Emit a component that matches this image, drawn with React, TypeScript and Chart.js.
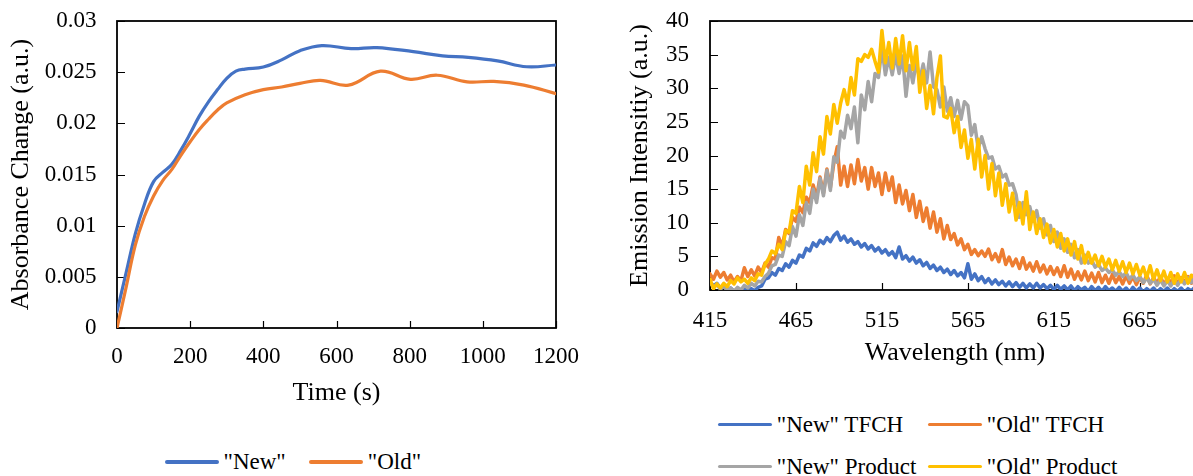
import React, { useEffect, useRef } from 'react';
import { Chart, registerables } from 'chart.js';

Chart.register(...registerables);

const FONT = "'Liberation Serif', 'Times New Roman', serif";
Chart.defaults.font.family = FONT;
const BLUE = '#4472C4';
const ORANGE = '#ED7D31';
const GRAY = '#A5A5A5';
const YELLOW = '#FFC000';

// ---- Left chart: absorbance change vs time ----
const timeNew = [0, 25, 50, 75, 100, 125, 150, 175, 200, 225, 250, 275, 300, 325, 350, 400, 450, 500, 560, 640, 710, 810, 890, 960, 1040, 1120, 1200];
const absNew = [0.0016, 0.0054, 0.0092, 0.0121, 0.0143, 0.0152, 0.016, 0.0174, 0.019, 0.0207, 0.0221, 0.0233, 0.0244, 0.0251, 0.0253, 0.0255, 0.0262, 0.0271, 0.0276, 0.0273, 0.0274, 0.027, 0.0266, 0.02645, 0.0261, 0.02553, 0.0257];
const timeOld = [0, 25, 50, 75, 100, 125, 150, 175, 200, 225, 250, 275, 300, 350, 400, 450, 500, 556, 633, 720, 802, 875, 957, 1030, 1112, 1200];
const absOld = [0, 0.004, 0.0081, 0.0109, 0.0129, 0.0144, 0.0155, 0.0169, 0.0182, 0.0194, 0.0204, 0.0213, 0.022, 0.0228, 0.0233, 0.02355, 0.0239, 0.0242, 0.02374, 0.0251, 0.0243, 0.0247, 0.02405, 0.0241, 0.02374, 0.0229];
const timeTicks = [0, 200, 400, 600, 800, 1000, 1200];
const absTicks = [0, 0.005, 0.01, 0.015, 0.02, 0.025, 0.03];

// ---- Right chart: emission spectra ----
const wavelengths = [
  415, 417, 419, 421, 423, 425, 427, 429, 431, 433,
  435, 437, 439, 441, 443, 445, 447, 449, 451, 453,
  455, 457, 459, 461, 463, 465, 467, 469, 471, 473,
  475, 477, 479, 481, 483, 485, 487, 489, 491, 493,
  495, 497, 499, 501, 503, 505, 507, 509, 511, 513,
  515, 517, 519, 521, 523, 525, 527, 529, 531, 533,
  535, 537, 539, 541, 543, 545, 547, 549, 551, 553,
  555, 557, 559, 561, 563, 565, 567, 569, 571, 573,
  575, 577, 579, 581, 583, 585, 587, 589, 591, 593,
  595, 597, 599, 601, 603, 605, 607, 609, 611, 613,
  615, 617, 619, 621, 623, 625, 627, 629, 631, 633,
  635, 637, 639, 641, 643, 645, 647, 649, 651, 653,
  655, 657, 659, 661, 663, 665, 667, 669, 671, 673,
  675, 677, 679, 681, 683, 685, 687, 689, 691, 693,
  695, 697, 699,
];
const newTFCH = [
  1.2, 0.6, 1.0, 0.3, 0.6, 0.0, 0.3, -0.2, 0.2, -0.3,
  0.1, -0.2, 0.2, -0.1, 0.4, 0.6, 1.6, 1.8, 2.6, 2.2,
  3.2, 2.9, 3.9, 3.4, 4.4, 4.0, 5.2, 4.9, 6.2, 5.8,
  7.0, 6.5, 7.4, 6.9, 7.8, 7.2, 8.1, 8.6, 7.4, 8.0,
  7.1, 7.6, 6.8, 7.2, 6.4, 6.9, 6.1, 6.6, 5.8, 6.3,
  5.5, 6.0, 5.2, 5.7, 4.8, 6.4, 4.6, 5.1, 4.3, 4.9,
  4.0, 4.5, 3.6, 4.1, 3.2, 3.7, 2.9, 3.4, 2.6, 3.1,
  2.3, 2.9, 2.1, 2.6, 1.8, 3.9, 1.6, 2.4, 1.4, 2.0,
  1.1, 1.7, 0.9, 1.5, 0.8, 1.3, 0.6, 1.2, 0.5, 1.1,
  0.4, 1.0, 0.3, 0.9, 0.3, 1.0, 0.3, 0.8, 0.2, 0.7,
  0.1, 0.7, 0.1, 0.6, 0.0, 0.6, -0.1, 0.5, 0.0, 0.4,
  -0.2, 0.5, -0.1, 0.4, -0.2, 0.5, -0.1, 0.3, -0.2, 0.4,
  -0.2, 0.3, -0.3, 0.4, -0.2, 0.3, -0.3, 0.2, -0.2, 0.3,
  -0.3, 0.2, -0.2, 0.3, -0.3, 0.2, -0.2, 0.3, -0.3, 0.2,
  -0.1, 0.4, 0.1,
];
const oldTFCH = [
  2.4, 1.6, 2.8, 1.9, 2.6, 1.5, 2.2, 1.2, 2.0, 1.4,
  3.3, 2.0, 3.0, 2.1, 3.4, 2.6, 4.0, 3.4, 4.8, 4.6,
  7.8, 6.5, 9.0, 8.4, 10.8, 10.2, 12.3, 11.5, 13.8, 13.0,
  15.6, 13.8, 16.8, 14.4, 18.0, 15.2, 18.8, 21.3, 15.6, 18.4,
  15.4, 18.6, 15.8, 19.4, 16.2, 18.2, 15.0, 18.2, 15.4, 17.4,
  14.2, 17.4, 14.8, 16.8, 13.0, 15.6, 12.8, 14.8, 11.8, 14.2,
  10.8, 13.2, 10.2, 12.2, 9.2, 11.6, 8.6, 10.6, 7.6, 9.6,
  7.5, 8.4, 6.7, 7.6, 6.0, 6.8, 5.3, 6.0, 5.1, 5.8,
  5.0, 6.1, 4.5, 5.4, 4.2, 6.0, 3.8, 4.9, 3.6, 4.6,
  3.2, 4.8, 3.1, 4.0, 2.8, 4.2, 2.7, 3.7, 2.4, 3.5,
  2.3, 3.3, 2.0, 3.6, 1.9, 3.1, 1.6, 2.7, 1.5, 2.8,
  1.4, 2.5, 1.2, 2.6, 1.1, 2.2, 1.0, 2.3, 1.1, 2.0,
  0.9, 2.1, 1.0, 2.0, 0.8, 1.9, 1.0, 2.2, 0.9, 1.8,
  1.0, 2.0, 0.8, 1.7, 1.1, 2.1, 0.9, 1.8, 1.2, 2.0,
  1.0, 2.4, 2.6,
];
const newProduct = [
  1.2, 0.4, 0.9, 0.1, 0.6, -0.1, 0.3, -0.2, 0.4, 0.0,
  0.7, 0.3, 1.0, 0.6, 1.3, 1.2, 2.0, 2.5, 3.6, 3.8,
  5.2, 5.0, 7.2, 6.6, 9.4, 8.0, 11.2, 9.6, 13.0, 11.4,
  15.0, 13.0, 16.6, 14.0, 17.8, 14.8, 19.8, 19.0, 23.6, 22.6,
  26.0, 24.0, 27.2, 21.9, 29.0, 26.8, 31.0, 28.0, 32.2, 31.6,
  36.0, 32.0, 34.6, 32.0, 35.0, 32.2, 34.8, 28.8, 33.4, 30.8,
  34.0, 31.2, 33.6, 30.8, 35.4, 30.2, 29.8, 27.2, 30.2, 26.6,
  28.6, 25.8, 28.2, 25.4, 28.0, 27.4, 23.0, 24.6, 21.0, 22.8,
  21.0, 19.6, 19.8, 18.0, 18.4, 16.8, 17.2, 15.6, 15.8, 14.2,
  10.8, 13.0, 11.2, 12.4, 10.2, 11.8, 9.2, 10.6, 8.2, 9.6,
  7.2, 8.6, 6.2, 7.6, 5.6, 6.8, 4.8, 6.0, 4.0, 5.2,
  4.0, 4.4, 3.4, 3.8, 2.9, 3.3, 2.6, 3.0, 2.2, 2.7,
  2.0, 2.6, 1.6, 2.2, 1.4, 2.0, 1.1, 1.8, 1.0, 1.6,
  0.7, 1.5, 0.6, 1.4, 0.6, 1.5, 0.7, 1.6, 0.9, 1.8,
  1.1, 1.9, 1.6,
];
const oldProduct = [
  1.6, 0.2, 0.9, 0.3, 1.0, 0.5, 1.4, 0.9, 1.8, 1.2,
  1.6, 1.0, 1.8, 1.4, 2.4, 2.2, 3.8, 4.6, 5.8, 5.4,
  6.8, 6.0, 8.8, 8.6, 11.8, 11.4, 15.4, 13.0, 18.4, 15.6,
  20.4, 17.6, 22.8, 20.2, 25.8, 23.2, 27.6, 24.8, 27.8, 29.8,
  27.6, 31.6, 29.0, 34.4, 34.0, 35.0, 34.6, 35.8, 34.0, 32.4,
  38.6, 33.8, 36.8, 33.0, 37.4, 33.6, 37.8, 32.6, 36.8, 32.8,
  36.2, 29.4, 32.6, 27.0, 30.4, 26.2, 31.6, 34.8, 25.8, 25.6,
  27.0, 23.4, 25.8, 21.2, 23.8, 19.6, 22.4, 18.0, 22.4, 16.8,
  20.0, 15.0, 18.8, 14.0, 17.4, 12.6, 15.8, 11.6, 14.4, 10.4,
  13.0, 9.8, 14.6, 9.0, 11.6, 8.4, 10.6, 7.8, 9.8, 7.0,
  9.0, 6.4, 8.4, 5.8, 7.6, 5.2, 7.2, 4.6, 6.6, 4.0,
  5.6, 4.0, 5.2, 3.6, 5.0, 3.4, 4.6, 3.0, 4.4, 2.8,
  4.2, 2.6, 4.0, 2.4, 3.8, 2.2, 3.4, 1.8, 3.6, 1.6,
  3.0, 1.4, 2.8, 1.2, 2.6, 1.0, 2.4, 1.2, 2.6, 1.0,
  2.2, 1.8, 2.8,
];
const wlTicks = [415, 465, 515, 565, 615, 665];
const emTicks = [0, 5, 10, 15, 20, 25, 30, 35, 40];

const framePlugin = {
  id: 'frameTicks',
  beforeDatasetsDraw(chart: any) {
    const { ctx, chartArea: a, scales } = chart;
    const x = scales.x;
    const y = scales.y;
    ctx.save();
    ctx.strokeStyle = '#000';
    ctx.lineWidth = 1.2;
    ctx.beginPath();
    x.ticks.forEach((t: any) => {
      const p = Math.round(x.getPixelForValue(t.value)) + 0.5;
      ctx.moveTo(p, a.bottom);
      ctx.lineTo(p, a.bottom - 7);
    });
    y.ticks.forEach((t: any) => {
      const p = Math.round(y.getPixelForValue(t.value)) + 0.5;
      ctx.moveTo(a.left, p);
      ctx.lineTo(a.left + 8, p);
    });
    ctx.stroke();
    ctx.lineWidth = 1.8;
    ctx.strokeRect(a.left, a.top, a.right - a.left, a.bottom - a.top);
    ctx.restore();
  },
};

function makeAxis(opts: any) {
  const { min, max, ticks, fmt, size, tickGap, title, titlePad, horizontal } = opts;
  return {
    type: 'linear',
    min,
    max,
    afterBuildTicks: (s: any) => {
      s.ticks = ticks.map((v: number) => ({ value: v }));
    },
    afterFit: (s: any) => {
      if (horizontal) s.height = size;
      else s.width = size;
    },
    grid: { display: false, drawTicks: true, tickLength: tickGap },
    border: { display: false },
    ticks: {
      padding: 0,
      color: '#000',
      autoSkip: false,
      maxRotation: 0,
      minRotation: 0,
      font: { family: FONT, size: 23 },
      callback: fmt,
    },
    title: {
      display: true,
      text: title,
      color: '#000',
      font: { family: FONT, size: 26 },
      padding: titlePad,
    },
  };
}

const lineDs = (label: string, xs: number[], ys: number[], color: string, width: number, tension: number, order: number) => ({
  label,
  data: xs.map((v, i) => ({ x: v, y: ys[i] })),
  borderColor: color,
  backgroundColor: color,
  borderWidth: width,
  pointRadius: 0,
  tension,
  borderJoinStyle: 'round',
  borderCapStyle: 'round',
  fill: false,
  order,
});

function LegendItem({ x, y, color, label }: { x: number; y: number; color: string; label: string }) {
  return (
    <>
      <div
        style={{
          position: 'absolute',
          left: x,
          top: y - 1.75,
          width: 54,
          height: 3.5,
          borderRadius: 2,
          background: color,
        }}
      />
      <div
        style={{
          position: 'absolute',
          left: x + 58.5,
          top: y - 11.65,
          fontFamily: FONT,
          fontSize: 23,
          lineHeight: '23px',
          whiteSpace: 'nowrap',
          color: '#000',
        }}
      >
        {label}
      </div>
    </>
  );
}

export default function App() {
  const leftRef = useRef<HTMLCanvasElement>(null);
  const rightRef = useRef<HTMLCanvasElement>(null);

  useEffect(() => {
    const left = new Chart(leftRef.current as HTMLCanvasElement, {
      type: 'line',
      data: {
        datasets: [
          lineDs('"New"', timeNew, absNew, BLUE, 3.2, 0.4, 2),
          lineDs('"Old"', timeOld, absOld, ORANGE, 3.2, 0.4, 1),
        ],
      },
      options: {
        responsive: false,
        animation: false,
        devicePixelRatio: 1,
        layout: { padding: { top: 21, right: 44, left: 0, bottom: 0 } },
        plugins: { legend: { display: false }, tooltip: { enabled: false } },
        scales: {
          x: makeAxis({
            min: 0, max: 1200, ticks: timeTicks, fmt: (v: any) => String(v),
            size: 81, tickGap: 15.5, title: 'Time (s)', titlePad: { top: 0, bottom: 0 }, horizontal: true,
          }),
          y: makeAxis({
            min: 0, max: 0.03, ticks: absTicks, fmt: (v: any) => String(+(+v).toFixed(3)),
            size: 117, tickGap: 20.5, title: 'Absorbance Change (a.u.)', titlePad: { top: 5.4, bottom: 0 }, horizontal: false,
          }),
        },
      } as any,
      plugins: [framePlugin],
    });

    const right = new Chart(rightRef.current as HTMLCanvasElement, {
      type: 'line',
      data: {
        datasets: [
          lineDs('"New" TFCH', wavelengths, newTFCH, BLUE, 3.5, 0, 4),
          lineDs('"Old" TFCH', wavelengths, oldTFCH, ORANGE, 3.5, 0, 3),
          lineDs('"New" Product', wavelengths, newProduct, GRAY, 3.5, 0, 2),
          lineDs('"Old" Product', wavelengths, oldProduct, YELLOW, 3.5, 0, 1),
        ],
      },
      options: {
        responsive: false,
        animation: false,
        devicePixelRatio: 1,
        layout: { padding: { top: 21, right: 40, left: 0, bottom: 0 } },
        plugins: { legend: { display: false }, tooltip: { enabled: false } },
        scales: {
          x: makeAxis({
            min: 415, max: 700, ticks: wlTicks, fmt: (v: any) => String(v),
            size: 79, tickGap: 16.7, title: 'Wavelength (nm)', titlePad: { top: 0, bottom: 0 }, horizontal: true,
          }),
          y: makeAxis({
            min: 0, max: 40, ticks: emTicks, fmt: (v: any) => String(v),
            size: 110, tickGap: 21, title: 'Emission Intensitiy (a.u.)', titlePad: { top: 25, bottom: 0 }, horizontal: false,
          }),
        },
      } as any,
      plugins: [framePlugin],
    });

    return () => {
      left.destroy();
      right.destroy();
    };
  }, []);

  return (
    <div
      style={{
        position: 'fixed',
        left: 0,
        top: 0,
        width: 1193,
        height: 476,
        overflow: 'hidden',
        background: '#fff',
      }}
    >
      <canvas ref={leftRef} width={600} height={409} style={{ position: 'absolute', left: 0, top: 0, width: 600, height: 409 }} />
      <canvas ref={rightRef} width={640} height={369} style={{ position: 'absolute', left: 600, top: 0, width: 640, height: 369 }} />
      <LegendItem x={165} y={462} color={BLUE} label={'"New"'} />
      <LegendItem x={309.3} y={462} color={ORANGE} label={'"Old"'} />
      <LegendItem x={718.3} y={424.3} color={BLUE} label={'"New" TFCH'} />
      <LegendItem x={928.3} y={424.3} color={ORANGE} label={'"Old" TFCH'} />
      <LegendItem x={718.3} y={466.7} color={GRAY} label={'"New" Product'} />
      <LegendItem x={928.3} y={466.7} color={YELLOW} label={'"Old" Product'} />
    </div>
  );
}
